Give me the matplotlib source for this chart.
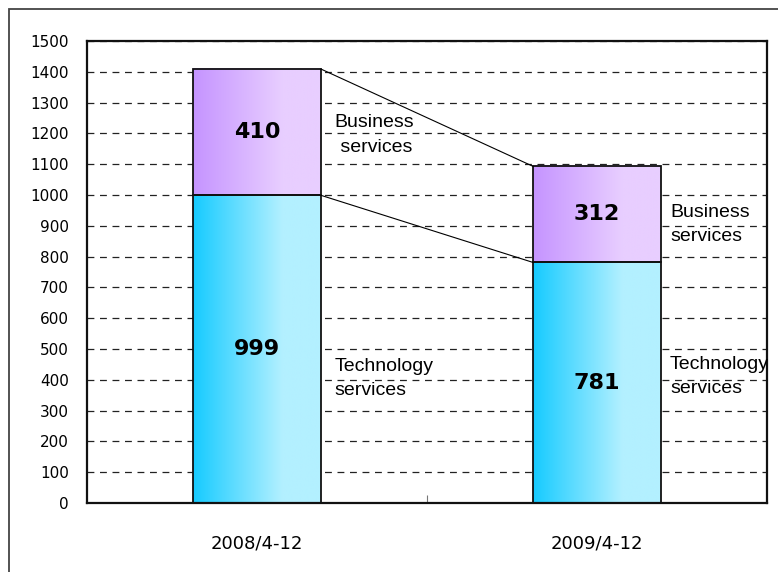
import numpy as np
import matplotlib
matplotlib.use("Agg")
import matplotlib.pyplot as plt
from matplotlib.patches import Rectangle
from matplotlib.colors import to_rgb

periods = ["2008/4-12", "2009/4-12"]
technology = [999, 781]
business = [410, 312]
segment_names = ["Technology\nservices", "Business\nservices"]

yticks = list(range(0, 1501, 100))

bar_w = 0.376
tech_colors = ("#16cbff", "#b3f0ff")
biz_colors = ("#c594ff", "#e8ceff")


def gradient_bar(ax, x, bottom, height, colors):
    # horizontal gradient from left colour to right colour, flat near the right edge
    c0 = np.array(to_rgb(colors[0]))
    c1 = np.array(to_rgb(colors[1]))
    t = np.clip(np.linspace(0, 1, 200) / 0.7, 0, 1)
    img = c0[None, :] * (1 - t[:, None]) + c1[None, :] * t[:, None]
    x0, x1 = x - bar_w / 2, x + bar_w / 2
    ax.imshow(img[None, :, :], extent=[x0, x1, bottom, bottom + height],
              aspect="auto", zorder=2, interpolation="bilinear")
    ax.add_patch(Rectangle((x0, bottom), bar_w, height, facecolor="none",
                           edgecolor="#111111", lw=1.3, zorder=3))


fig = plt.figure(figsize=(7.78, 5.72), dpi=100)
ax = fig.add_axes([87 / 778, 69 / 572, 680 / 778, 462 / 572])

# outer chart frame, running off the right and bottom edges
fig.add_artist(Rectangle((9 / 778, -0.1), 1.2, 1 - 9 / 572 + 0.1,
                         transform=fig.transFigure, facecolor="none",
                         edgecolor="#444444", lw=1.3))

x = np.arange(len(periods))
for i in x:
    gradient_bar(ax, i, 0, technology[i], tech_colors)
    gradient_bar(ax, i, technology[i], business[i], biz_colors)
    ax.text(i, technology[i] / 2, str(technology[i]), ha="center", va="center",
            fontsize=16, fontweight="bold", zorder=4)
    ax.text(i, technology[i] + business[i] / 2, str(business[i]), ha="center",
            va="center", fontsize=16, fontweight="bold", zorder=4)

# connector lines between the stacked bars
for level in (np.array(technology), np.array(technology) + np.array(business)):
    ax.plot([x[0] + bar_w / 2, x[1] - bar_w / 2], [level[0], level[1]],
            color="black", lw=0.8, zorder=3)

# segment names beside each bar
side_font = dict(fontsize=14, family="Liberation Sans", ha="left", va="center",
                 linespacing=1.55, zorder=4)
ax.text(0.229, 1195, "Business\n services", **side_font)
ax.text(0.229, 404, segment_names[0], **side_font)
ax.text(1.215, 903, segment_names[1], **side_font)
ax.text(1.215, 411, segment_names[0], **side_font)

ax.set_xlim(-0.5, 1.5)
ax.set_ylim(0, 1500)
ax.set_yticks(yticks)
ax.set_yticklabels([str(v) for v in yticks], fontsize=11)
ax.tick_params(axis="y", length=0, pad=13)
ax.set_xticks(x)
ax.set_xticklabels(periods, fontsize=13)
ax.tick_params(axis="x", which="major", length=0, pad=23)
ax.set_xticks([0.5], minor=True)
ax.tick_params(axis="x", which="minor", direction="in", length=6,
               color="#777777", width=0.8)

ax.set_axisbelow(True)
ax.yaxis.grid(True, linestyle=(0, (5.5, 4.5)), color="#222222", lw=0.9)
for s in ax.spines.values():
    s.set_linewidth(1.6)
    s.set_color("#111111")

fig.savefig("out.png", dpi=100)
